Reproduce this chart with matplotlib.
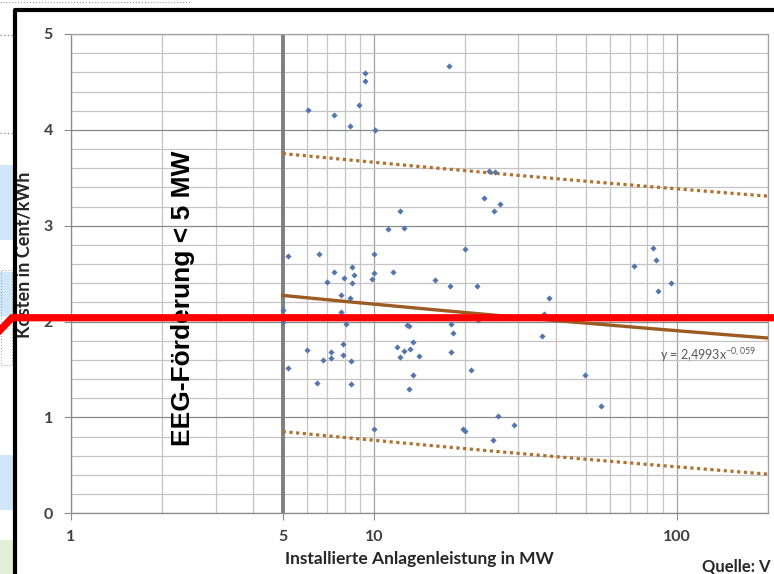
import numpy as np
import matplotlib
matplotlib.use('Agg')
import matplotlib.pyplot as plt
from matplotlib.lines import Line2D
from matplotlib.patches import Rectangle
from matplotlib.transforms import blended_transform_factory
from matplotlib.ticker import FixedLocator, NullFormatter

# Data (installed capacity in MW vs. cost in Cent/kWh)
cap_mw = [6.07, 7.39, 8.35, 8.94, 9.36, 9.36, 10.05, 17.7, 12.2, 11.1,
          12.6, 5.19, 6.58, 9.98, 20.0, 7.38, 8.48, 8.57, 7.98, 9.98,
          9.86, 11.58, 6.98, 8.48, 15.9, 17.9, 7.77, 8.35, 5.0, 7.77,
          5.0, 8.07, 12.9, 13.1, 18.0, 18.3, 13.5, 6.0, 7.88, 11.9,
          12.6, 13.2, 18.0, 7.19, 7.19, 7.88, 12.2, 14.1, 6.77, 8.38,
          5.19, 6.48, 8.38, 13.5, 13.1, 9.98, 19.7, 20.0, 26.1, 24.9,
          23.1, 24.0, 25.1, 21.9, 37.9, 36.3, 72.3, 35.9, 20.9, 49.7,
          56.0, 25.7, 29.0, 24.8, 83.7, 85.3, 96.0, 86.4, 22.0]
cost_ct = [4.21, 4.16, 4.04, 4.26, 4.59, 4.51, 4.00, 4.67, 3.15, 2.97,
           2.98, 2.68, 2.71, 2.70, 2.76, 2.52, 2.57, 2.49, 2.45, 2.51,
           2.44, 2.52, 2.41, 2.40, 2.43, 2.37, 2.28, 2.25, 2.12, 2.10,
           2.00, 1.97, 1.96, 1.95, 1.97, 1.88, 1.79, 1.70, 1.77, 1.74,
           1.69, 1.71, 1.68, 1.68, 1.62, 1.65, 1.63, 1.64, 1.60, 1.59,
           1.52, 1.36, 1.35, 1.44, 1.30, 0.88, 0.88, 0.86, 3.23, 3.15,
           3.29, 3.57, 3.56, 2.37, 2.25, 2.08, 2.58, 1.85, 1.49, 1.44,
           1.12, 1.02, 0.92, 0.76, 2.77, 2.64, 2.40, 2.32, 2.02]

# Power trend line y = a * x^b and the band around it
trend_a = 2.4993
trend_b = -0.059
band_upper = 1.48
band_lower = 1.42
eeg_limit_mw = 5
red_level = 2.04

x_ticks = [1, 5, 10, 100]
x_ticklabels = ['1', '5', '10', '100']
y_ticks = [0, 1, 2, 3, 4, 5]

plt.rcParams['mathtext.default'] = 'regular'

fig = plt.figure(figsize=(7.74, 5.74), dpi=100)
fig.patch.set_facecolor('white')

# Excel cells peeking out on the left of the chart frame
for y0, y1, col in [(165, 240, '#cfe7f8'), (272, 316, '#cfe7f8'),
                    (455, 510, '#cfe7f8'), (540, 574, '#e2f0d5')]:
    fig.add_artist(Rectangle((0, 1 - y1 / 574), 13 / 774, (y1 - y0) / 574,
                             transform=fig.transFigure, color=col, lw=0))
fig.add_artist(Rectangle((1 / 774, 1 - 365 / 574), 11 / 774, 95 / 574,
                         transform=fig.transFigure, fill=False,
                         ec='#aaaaaa', lw=0.8, ls=':'))
for yy in [35, 133]:
    fig.add_artist(Line2D([0, 13 / 774], [1 - yy / 574] * 2, transform=fig.transFigure,
                          color='#999999', lw=1, ls=':'))
fig.add_artist(Line2D([0, 190 / 774], [1 - 2 / 574] * 2, transform=fig.transFigure,
                      color='#999999', lw=0.8, ls=':'))

# black frame of the embedded chart
fig.add_artist(Line2D([15 / 774, 15 / 774, 1], [0, 1 - 10 / 574, 1 - 10 / 574],
                      transform=fig.transFigure, color='black', lw=3))

ax = fig.add_axes([71 / 774, (574 - 513.3) / 574, (768 - 71) / 774, (513.3 - 34) / 574])
ax.set_xscale('log')
ax.set_xlim(1, 200)
ax.set_ylim(0, 5)

# grid lines like Excel
ax.set_yticks(y_ticks)
ax.yaxis.set_minor_locator(FixedLocator(np.arange(0, 5.01, 0.2)))
ax.xaxis.set_major_locator(FixedLocator(x_ticks))
ax.set_xticklabels(x_ticklabels)
ax.xaxis.set_minor_locator(FixedLocator([d * m for d in [1, 10, 100] for m in range(2, 10)]))
ax.xaxis.set_minor_formatter(NullFormatter())
ax.grid(which='minor', color='#c4c4c4', lw=0.9)
ax.grid(which='major', axis='y', color='#8a8a8a', lw=0.9)
ax.grid(which='major', axis='x', color='#a0a0a0', lw=0.9)
ax.set_axisbelow(True)
for s in ax.spines.values():
    s.set_color('#a0a0a0')
    s.set_linewidth(0.9)
ax.spines['left'].set_color('#8a8a8a')
ax.spines['bottom'].set_color('#8a8a8a')

ax.tick_params(which='major', length=5, color='#8a8a8a', labelcolor='#404040',
               labelsize=11.5)
ax.tick_params(axis='y', pad=8)
ax.tick_params(axis='x', pad=7)
ax.tick_params(which='minor', length=0)
for lab in ax.get_xticklabels() + ax.get_yticklabels():
    lab.set_fontfamily('Lato')
    lab.set_fontweight('bold')

ax.set_xlabel('Installierte Anlagenleistung in MW', fontfamily='Lato', fontweight='bold',
              fontsize=12.5, color='#262626', labelpad=5)
ax.set_ylabel('Kosten in Cent/kWh', fontfamily='Lato', fontweight='bold',
              fontsize=13, color='#262626', labelpad=3)
ax.yaxis.set_label_coords(-0.055, 0.54)

# vertical marker at the EEG limit
ax.axvline(eeg_limit_mw, color='#7f7f7f', lw=2.8, ymax=0.995, zorder=2)

# trend line and band
xs = np.logspace(np.log10(eeg_limit_mw), np.log10(200), 200)
trend = trend_a * xs ** trend_b
ax.plot(xs, trend + band_upper, color='#b0712c', lw=2.3, ls=(0, (1, 1.1)), zorder=3)
ax.plot(xs, trend - band_lower, color='#b0712c', lw=2.3, ls=(0, (1, 1.1)), zorder=3)
ax.plot(xs, trend, color='#9b5b22', lw=2.4, zorder=3)

ax.scatter(cap_mw, cost_ct, marker='D', s=10, color='#5576ab', lw=0, zorder=4)

ax.text(88, 1.6, r'y = 2,4993x$^{-0,059}$', fontsize=9, color='#595959',
        fontfamily='Lato')

# rotated annotation
ax.text(2.34, 2.24, 'EEG-Förderung < 5 MW', rotation=90, ha='center', va='center',
        fontsize=19, fontweight='bold', fontfamily='Liberation Sans', color='black',
        zorder=5)

# red level line across the whole screenshot
tr = blended_transform_factory(fig.transFigure, ax.transData)
fig.add_artist(Line2D([0, 12 / 774, 1], [red_level - 0.13, red_level, red_level],
                      transform=tr, color='#ff0000', lw=5.2, solid_joinstyle='miter'))

fig.text(771 / 774, 3 / 574, 'Quelle: V', fontsize=12, fontfamily='Lato',
         fontweight='bold', color='#262626', ha='right')

plt.savefig('out.png', dpi=100)
